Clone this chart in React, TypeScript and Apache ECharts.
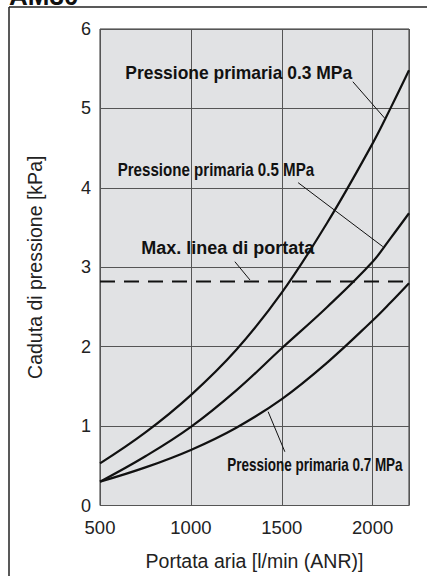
import React, { useEffect, useRef } from "react";
import * as echarts from "echarts";

const flowX = [500, 750, 1000, 1250, 1500, 1750, 2000, 2100, 2200];
const p03 = [0.53, 0.92, 1.39, 1.96, 2.68, 3.56, 4.56, 5.01, 5.48];
const p05 = [0.3, 0.62, 0.99, 1.45, 1.98, 2.5, 3.07, 3.37, 3.68];
const p07 = [0.3, 0.48, 0.7, 0.98, 1.34, 1.8, 2.33, 2.56, 2.8];
const maxLineX = [500, 2200];
const maxLineY = [2.82, 2.82];

const xTicks = { min: 500, max: 2200, interval: 500 };
const yTicks = { min: 0, max: 6, interval: 1 };

const labelTexts = [
  "Pressione primaria 0.3 MPa",
  "Pressione primaria 0.5 MPa",
  "Max. linea di portata",
  "Pressione primaria 0.7 MPa",
];
// label anchors (data units): left edge x, vertical centre y
const labelAnchorX = [639, 597, 727, 1200];
const labelAnchorY = [5.445, 4.224, 3.246, 0.512];
const labelScale = [0.97, 0.84, 1.0, 0.75];
// leader lines (data units)
const leaderFrom = [[1891, 5.336], [1590, 4.065], [1242, 3.07], [1425, 1.181]];
const leaderTo = [[2065, 4.88], [2056, 3.26], [1325, 2.84], [1517, 0.677]];

const FONT = "'Liberation Sans', Arial, Helvetica, sans-serif";

function pairs(xs: number[], ys: number[]) {
  return xs.map((x, i) => [x, ys[i]]);
}

export default function App() {
  const ref = useRef<HTMLDivElement>(null);
  useEffect(() => {
    if (!ref.current) return;
    const chart = echarts.init(ref.current, null, { renderer: "svg" });
    const curveStyle = { color: "#111", width: 2.2 };
    const curve = (name: string, ys: number[]) => ({
      type: "line",
      name,
      data: pairs(flowX, ys),
      smooth: 0.4,
      showSymbol: false,
      lineStyle: curveStyle,
    });
    chart.setOption({
      animation: false,
      backgroundColor: "#ffffff",
      textStyle: { fontFamily: FONT },
      grid: {
        left: 100,
        top: 29,
        right: 18,
        bottom: 70.5,
        show: true,
        backgroundColor: "#e1e2e4",
        borderColor: "#333",
        borderWidth: 1,
        containLabel: false,
      },
      xAxis: {
        type: "value",
        min: xTicks.min,
        max: xTicks.max,
        interval: xTicks.interval,
        name: "Portata aria [l/min (ANR)]",
        nameLocation: "middle",
        nameGap: 45,
        nameTextStyle: { fontSize: 19.5, color: "#222", fontFamily: FONT },
        axisLine: { show: false },
        axisTick: { show: false },
        axisLabel: {
          fontSize: 18.5,
          color: "#222",
          margin: 12,
          showMaxLabel: false,
          fontFamily: FONT,
          formatter: (v: number) => String(v),
        },
        splitLine: { show: true, lineStyle: { color: "#555", width: 1 } },
      },
      yAxis: {
        type: "value",
        min: yTicks.min,
        max: yTicks.max,
        interval: yTicks.interval,
        name: "Caduta di pressione [kPa]",
        nameLocation: "middle",
        nameGap: 55,
        nameTextStyle: { fontSize: 19.5, color: "#222", fontFamily: FONT },
        axisLine: { show: false },
        axisTick: { show: false },
        axisLabel: { fontSize: 18, color: "#222", margin: 9, fontFamily: FONT },
        splitLine: { show: true, lineStyle: { color: "#555", width: 1 } },
      },
      series: [
        curve("0.3 MPa", p03),
        curve("0.5 MPa", p05),
        curve("0.7 MPa", p07),
        {
          type: "line",
          name: "Max",
          data: pairs(maxLineX, maxLineY),
          showSymbol: false,
          lineStyle: { color: "#111", width: 2, type: [15, 9] },
        },
      ],
    });

    const graphics: any[] = [];
    graphics.push({
      type: "line",
      shape: { x1: 9, y1: 7, x2: 427, y2: 7 },
      style: { stroke: "#222", lineWidth: 1.5 },
    });
    graphics.push({
      type: "line",
      shape: { x1: 9, y1: 7, x2: 9, y2: 576 },
      style: { stroke: "#222", lineWidth: 1.5 },
    });
    graphics.push({
      type: "text",
      x: 9,
      y: -4.5,
      style: {
        text: "AM30",
        fill: "#111",
        font: `bold 26px ${FONT}`,
        align: "left",
        verticalAlign: "middle",
      },
    });
    labelTexts.forEach((t, i) => {
      const p = chart.convertToPixel({ gridIndex: 0 }, [labelAnchorX[i], labelAnchorY[i]]) as number[];
      graphics.push({
        type: "text",
        x: p[0],
        y: p[1],
        scaleX: labelScale[i],
        z: 10,
        style: {
          text: t,
          fill: "#111",
          font: `bold 18px ${FONT}`,
          align: "left",
          verticalAlign: "middle",
        },
      });
      const a = chart.convertToPixel({ gridIndex: 0 }, leaderFrom[i]) as number[];
      const b = chart.convertToPixel({ gridIndex: 0 }, leaderTo[i]) as number[];
      graphics.push({
        type: "line",
        z: 10,
        shape: { x1: a[0], y1: a[1], x2: b[0], y2: b[1] },
        style: { stroke: "#111", lineWidth: 1 },
      });
    });
    chart.setOption({ graphic: graphics });
    return () => chart.dispose();
  }, []);
  return (
    <div
      ref={ref}
      style={{ position: "fixed", left: 0, top: 0, width: 427, height: 576 }}
    />
  );
}
